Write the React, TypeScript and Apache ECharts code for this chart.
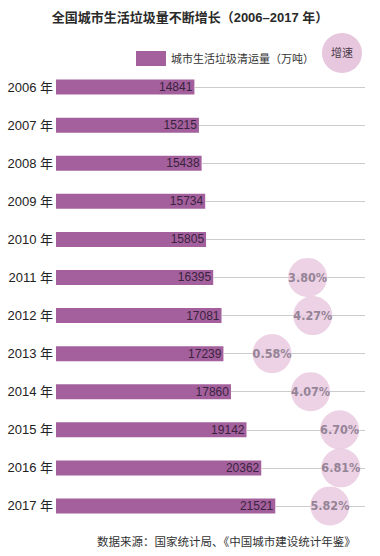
import React, { useEffect, useRef } from "react";
import * as echarts from "echarts";

const years = ["2006 年", "2007 年", "2008 年", "2009 年", "2010 年", "2011 年", "2012 年", "2013 年", "2014 年", "2015 年", "2016 年", "2017 年"];
const volumes = [14841, 15215, 15438, 15734, 15805, 16395, 17081, 17239, 17860, 19142, 20362, 21521];
const growthYears = ["2011 年", "2012 年", "2013 年", "2014 年", "2015 年", "2016 年", "2017 年"];
const growthRates = [3.8, 4.27, 0.58, 4.07, 6.7, 6.81, 5.82];

const titleText = "全国城市生活垃圾量不断增长（2006–2017 年）";
const volumeName = "城市生活垃圾清运量（万吨）";
const growthName = "增速";
const sourceText = "数据来源：国家统计局、《中国城市建设统计年鉴》";

const VOL_MIN = 3415;
const VOL_MAX = 28927;
const G_MIN = -19;
const G_MAX = 9;

const SANS = "'Liberation Sans', 'Noto Sans CJK SC', sans-serif";
const NARROW = "'DejaVu Sans Condensed', 'Liberation Sans Narrow', sans-serif";

export default function App() {
  const ref = useRef<HTMLDivElement>(null);
  useEffect(() => {
    if (!ref.current) return;
    const chart = echarts.init(ref.current, null, { renderer: "svg" });
    const option: any = {
      animation: false,
      backgroundColor: "#ffffff",
      title: {
        text: titleText,
        left: "center",
        top: 6,
        textStyle: { fontSize: 13, fontWeight: "bold", color: "#2a2a2a", fontFamily: SANS },
      },
      legend: {
        data: [{ name: volumeName, icon: "rect" }],
        left: 131,
        top: 46,
        itemWidth: 30,
        itemHeight: 15,
        itemGap: 6,
        textStyle: { fontSize: 11, color: "#333", fontFamily: SANS },
        selectedMode: false,
      },
      grid: { left: 56, top: 68, width: 309, height: 457, containLabel: false },
      xAxis: [
        { type: "value", min: VOL_MIN, max: VOL_MAX, show: false },
        { type: "value", min: G_MIN, max: G_MAX, show: false },
      ],
      yAxis: {
        type: "category",
        data: years,
        inverse: true,
        axisLine: { show: false },
        axisTick: { show: false },
        splitLine: { show: false },
        axisLabel: { color: "#222", fontSize: 13, margin: 3, fontFamily: SANS },
      },
      series: [
        {
          name: volumeName,
          type: "bar",
          xAxisIndex: 0,
          data: volumes,
          barWidth: 15,
          itemStyle: { color: "#a3609c" },
          label: {
            show: true,
            position: "insideRight",
            distance: 2,
            color: "#3a2340",
            fontSize: 12,
            fontFamily: SANS,
          },
          markLine: {
            silent: true,
            symbol: "none",
            label: { show: false },
            lineStyle: { color: "#cccccc", width: 1, type: "solid" },
            data: volumes.map((v, i) => [
              { coord: [v, years[i]] },
              { coord: [VOL_MAX, years[i]] },
            ]),
          },
          z: 2,
        },
        {
          name: growthName,
          type: "scatter",
          xAxisIndex: 1,
          data: growthRates.map((g, i) => [g, growthYears[i]]),
          symbol: "circle",
          symbolSize: 39,
          itemStyle: { color: "#e7c7dd" },
          label: {
            show: true,
            position: "inside",
            formatter: (p: any) => p.value[0].toFixed(2) + "%",
            color: "#7d6e82",
            fontSize: 12.5,
            fontWeight: "bold",
            fontFamily: NARROW,
          },
          z: 5,
        },
      ],
      graphic: [
        {
          type: "circle",
          shape: { cx: 342, cy: 53, r: 20 },
          style: { fill: "#e7c7dd" },
        },
        {
          type: "text",
          x: 342,
          y: 53,
          style: {
            text: growthName,
            fontSize: 11,
            fill: "#4a3a4a",
            align: "center",
            verticalAlign: "middle",
            fontFamily: SANS,
          },
        },
        {
          type: "text",
          x: 97,
          y: 542,
          style: {
            text: sourceText,
            fontSize: 11.5,
            fill: "#333",
            verticalAlign: "middle",
            fontFamily: SANS,
          },
        },
      ],
    };
    chart.setOption(option);
    return () => chart.dispose();
  }, []);
  return (
    <div
      ref={ref}
      style={{ position: "absolute", left: 0, top: 0, width: 380, height: 556, background: "#fff" }}
    />
  );
}
